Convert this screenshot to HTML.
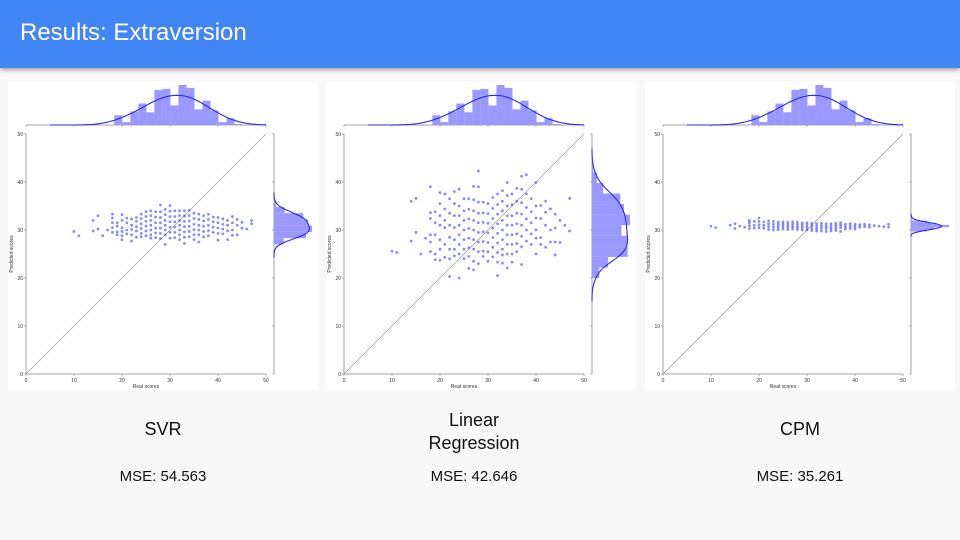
<!DOCTYPE html>
<html><head><meta charset="utf-8">
<style>
body{margin:0;width:960px;height:540px;background:#f8f8f8;overflow:hidden;font-family:"Liberation Sans",sans-serif;position:relative}
#hdr{position:absolute;left:0;top:0;width:960px;height:68px;background:#4285f4;box-shadow:0 2px 4px rgba(0,0,0,0.35)}
#hdr span{position:absolute;left:20px;top:19px;color:#fff;font-size:24px}
.lbl{position:absolute;font-size:18px;color:#111;text-align:center;width:200px}
.mse{position:absolute;font-size:15px;color:#111;text-align:center;width:200px}
svg{position:absolute;left:0;top:0}
</style></head><body>
<div id="hdr"><span>Results: Extraversion</span></div>
<svg id="chart" width="960" height="540"></svg>
<div class="lbl" style="left:63px;top:419px">SVR</div>
<div class="lbl" style="left:374px;top:409px;line-height:23px">Linear<br>Regression</div>
<div class="lbl" style="left:700px;top:419px">CPM</div>
<div class="mse" style="left:63px;top:468px">MSE: 54.563</div>
<div class="mse" style="left:374px;top:468px">MSE: 42.646</div>
<div class="mse" style="left:700px;top:468px">MSE: 35.261</div>
<script>
const ticks=[0,10,20,30,40,50];
const histStart=18.4, histWidth=1.67;
const histCounts=[10,3,14,22,13,36,37,20,41,38,16,25,15,3,7,1];
const xCols=[10,11,14,15,16,17,18,19,20,21,22,23,24,25,26,27,28,29,30,31,32,33,34,35,36,37,38,39,40,41,42,43,44,45,46,47];
const svrY=[[29.7],[28.8],[32,29.8],[33,30.2],[28.8],[30],[33.3,32.5,31.5,30.5,29.5],[31.5,30.8,29.6,29],[33.2,32,30.5,29.7,28.8,28],[32.5,31.5,30,29.2],[32.3,31,30.1,29,27.7],[32.6,31.8,30.7,29.8,28.5],[33.3,32.4,31.3,30.3,29.3,28.6],[33.8,32.8,31.8,30.8,29.8,28.8],[34,33,32,31,30,29,28.3],[33.8,32.7,31.5,30.4,29.4,28.4],[35.2,33.8,32.6,31.5,30.4,29.3,28.2],[34.3,33.2,32,31,30,29,27],[35.1,33.9,32.8,31.7,30.6,29.5,28.3],[34,32.8,31.7,30.6,29.5,28.4],[34,33,32,31,30,29,28],[34,32.9,31.8,30.7,29.6,28.5,27.2],[34.1,33,31.9,30.8,29.7,28.6],[33.5,32.4,31.2,30.1,29,28],[33.3,32.2,31,30,29,27.5],[33,31.9,30.8,29.7,28.6],[33.3,32.2,31,29.9,28.8],[32.7,31.7,30.6,29.5],[32.6,31.5,30.4,29.3,27.9],[32.3,31.2,30.2,29.2],[32,31,29.8,28],[32.8,31.5,30,28.9],[32.2,31,29],[31.6,30.4],[30.2],[32,31.3]];
const lrY=[[25.6],[25.3],[36,27.7],[36.6,29.5],[25],[28.3],[39,33.6,32.4,29,27.5,25.5],[33.8,31.5,29,25,23.8],[37.8,35.5,33,31,28,26,23.7],[37.5,34.4,32,30.5,27,24.3],[36.5,33.5,31,28.5,26,24,20.3],[38,35.5,33,30.5,28,26,24.6],[38.5,35,33,31,29,27,25,20],[36.5,34,32,30,28,26,24],[36.5,34.3,32.3,30.3,28.3,26.3,24.5,22],[39.1,36.3,34,32,30,28,26,23.5,21.7],[42.3,39,35.8,33.5,31.5,29.5,27.5,25.5,23],[35.8,33.6,31.6,29.6,27.6,25.6,24.5],[35.5,33.4,31.4,29.4,27.4,25.5,23.5],[36.8,34.5,32.4,30.4,28.4,26.4,24.4],[37.5,35.3,33.3,31.3,29.3,27.3,25.3,23.3,20.5],[38.2,36,34,32,30,28,26,24.8,23.1],[39.9,37.2,35,33,31,29,27,25,22.1],[37.5,35.3,33,31,29,27,25,23.3],[38.7,36,33.5,31.3,29.2,27.2,25.5],[41.2,38.5,35.7,33.3,31,28.7,26.5,22.8],[41.5,37.5,34.7,32.3,30,27.7],[36.5,33.8,31.5,29.2,27],[39.9,35,32.5,30,28.3,25],[35.1,32.4,28.4,27],[36,33.7,31,26.4],[34.4,30,27.5],[33.3,30.4,27.5,24.8],[32,27.4],[31],[36.6,29.8]];
const cpmY=[[30.8],[30.5],[31],[31.3,30.3],[30.8],[30.6],[32,31.5,30.9,30.3],[31.8,31,30.4],[32.5,31.8,31.1,30.5],[31.7,31,30.4],[31.9,31.3,30.7,30.1],[31.8,31.2,30.6,30],[31.6,31.1,30.6,30.1],[31.7,31.2,30.7,30.2],[31.6,31.1,30.6,30.1],[31.7,31.2,30.7,30.2],[31.6,31.1,30.6,30.1],[31.5,31,30.5,30],[31.5,31,30.5,30],[31.4,30.9,30.4,29.9],[31.3,30.8,30.3,29.8],[31.4,30.9,30.4,29.8],[31.3,30.8,30.3,29.7],[31.3,30.8,30.3,29.8],[31.4,30.9,30.4,29.9],[31.5,31,30.5,29.7],[31.2,30.7,30.2],[31.3,30.8,30.3],[31.2,30.7,30.2],[31.1,30.6],[31.2,30.7],[31.1,30.6],[30.9],[30.8],[30.7],[31.2,30.6]];
const models=[{name:'svr',ox:26,ys:svrY,bw:0.9,bin:1.3},{name:'lr',ox:344,ys:lrY,bw:1.6,bin:2.2},{name:'cpm',ox:663,ys:cpmY,bw:0.35,bin:0.45}];
const NS='http://www.w3.org/2000/svg';
const svg=document.getElementById('chart');
function mk(tag,attrs,parent){const e=document.createElementNS(NS,tag);for(const k in attrs)e.setAttribute(k,attrs[k]);(parent||svg).appendChild(e);return e;}
const Y0=374,PX=4.8;
function gauss(u){return Math.exp(-0.5*u*u)/Math.sqrt(2*Math.PI);}
models.forEach(m=>{
  const ox=m.ox;
  const sx=v=>ox+v*PX, sy=v=>Y0-v*PX;
  const g=mk('g',{});
  
  
  const bg=mk('rect',{x:ox-18,y:81,width:310,height:309,fill:'#fff'},g);
  
  mk('line',{x1:ox,y1:sy(0),x2:ox,y2:sy(50),stroke:'#888','stroke-width':0.8},g);
  mk('line',{x1:ox,y1:sy(0),x2:sx(50),y2:sy(0),stroke:'#888','stroke-width':0.8},g);
  mk('line',{x1:ox,y1:125,x2:sx(50),y2:125,stroke:'#888','stroke-width':0.8},g);
  const rx=sx(50)+8;
  mk('line',{x1:rx,y1:sy(0),x2:rx,y2:sy(50),stroke:'#888','stroke-width':0.8},g);
  ticks.forEach(t=>{
    mk('line',{x1:sx(t),y1:Y0,x2:sx(t),y2:Y0+2,stroke:'#888','stroke-width':0.6},g);
    mk('line',{x1:ox-2,y1:sy(t),x2:ox,y2:sy(t),stroke:'#888','stroke-width':0.6},g);
    mk('line',{x1:sx(t),y1:125,x2:sx(t),y2:127,stroke:'#888','stroke-width':0.6},g);
    mk('line',{x1:rx-2,y1:sy(t),x2:rx,y2:sy(t),stroke:'#888','stroke-width':0.6},g);
    const a=mk('text',{x:sx(t),y:Y0+8,'font-size':5,'text-anchor':'middle',fill:'#333'},g);a.textContent=t;
    
    const b=mk('text',{x:ox-3,y:sy(t)+2,'font-size':5,'text-anchor':'end',fill:'#333'},g);b.textContent=t;
    
  });
  const xt=mk('text',{x:sx(25),y:Y0+14,'font-size':5,'text-anchor':'middle',fill:'#333'},g);xt.textContent='Real scores';
  
  const yt=mk('text',{x:0,y:0,'font-size':5,'text-anchor':'middle',fill:'#333',transform:`translate(${ox-13},${sy(25)}) rotate(-90)`},g);yt.textContent='Predicted scores';
  
  const d=mk('line',{x1:sx(0),y1:sy(0),x2:sx(50),y2:sy(50),stroke:'#999','stroke-width':0.7},g);
  
  const total=histCounts.reduce((a,b)=>a+b,0);
  const dens=histCounts.map(c=>c/(total*histWidth));
  const kdeT=v=>{let s=0;histCounts.forEach((c,i)=>{const ctr=histStart+histWidth*(i+0.5);s+=c*gauss((v-ctr)/3.2)/3.2;});return s/total;};
  let maxT=Math.max(...dens);
  const tsc=40/maxT;
  histCounts.forEach((c,i)=>{
    const h=dens[i]*tsc;
    const r=mk('rect',{x:sx(histStart+i*histWidth),y:125-h,width:histWidth*PX,height:h,fill:'#9999ff'},g);
    
  });
  let p='';for(let v=5;v<=50;v+=0.5){p+=(p?'L':'M')+sx(v).toFixed(1)+','+(125-kdeT(v)*tsc).toFixed(1);}
  const tk=mk('path',{d:p,fill:'none',stroke:'#2a2ae8','stroke-width':1.1},g);
  
  const all=[];
  m.ys.forEach((col,i)=>col.forEach(y=>{all.push(y);
    const c=mk('circle',{cx:sx(xCols[i]),cy:sy(y),r:1.4,fill:'#3a3aff','fill-opacity':0.6},g);
    
  }));
  const lo=Math.min(...all),hi=Math.max(...all);
  const nb=Math.ceil((hi-lo)/m.bin)||1;const cnt=new Array(nb).fill(0);
  all.forEach(y=>{cnt[Math.min(nb-1,Math.floor((y-lo)/m.bin))]++;});
  const rd=cnt.map(c=>c/(all.length*m.bin));
  const kdeR=v=>{let s=0;all.forEach(y=>{s+=gauss((v-y)/m.bw)/m.bw;});return s/all.length;};
  let mk2=0;for(let v=lo-3*m.bw;v<=hi+3*m.bw;v+=0.1)mk2=Math.max(mk2,kdeR(v));
  const rsc=38/Math.max(mk2,Math.max(...rd));
  cnt.forEach((c,i)=>{
    const w=rd[i]*rsc;
    const r=mk('rect',{x:rx,y:sy(lo+(i+1)*m.bin),width:w,height:m.bin*PX,fill:'#9999ff'},g);
    
  });
  p='';for(let v=lo-3*m.bw;v<=hi+3*m.bw;v+=0.1){p+=(p?'L':'M')+(rx+kdeR(v)*rsc).toFixed(1)+','+sy(v).toFixed(1);}
  const rk=mk('path',{d:p,fill:'none',stroke:'#2a2ae8','stroke-width':1.1},g);
  
});
</script>
</body></html>
